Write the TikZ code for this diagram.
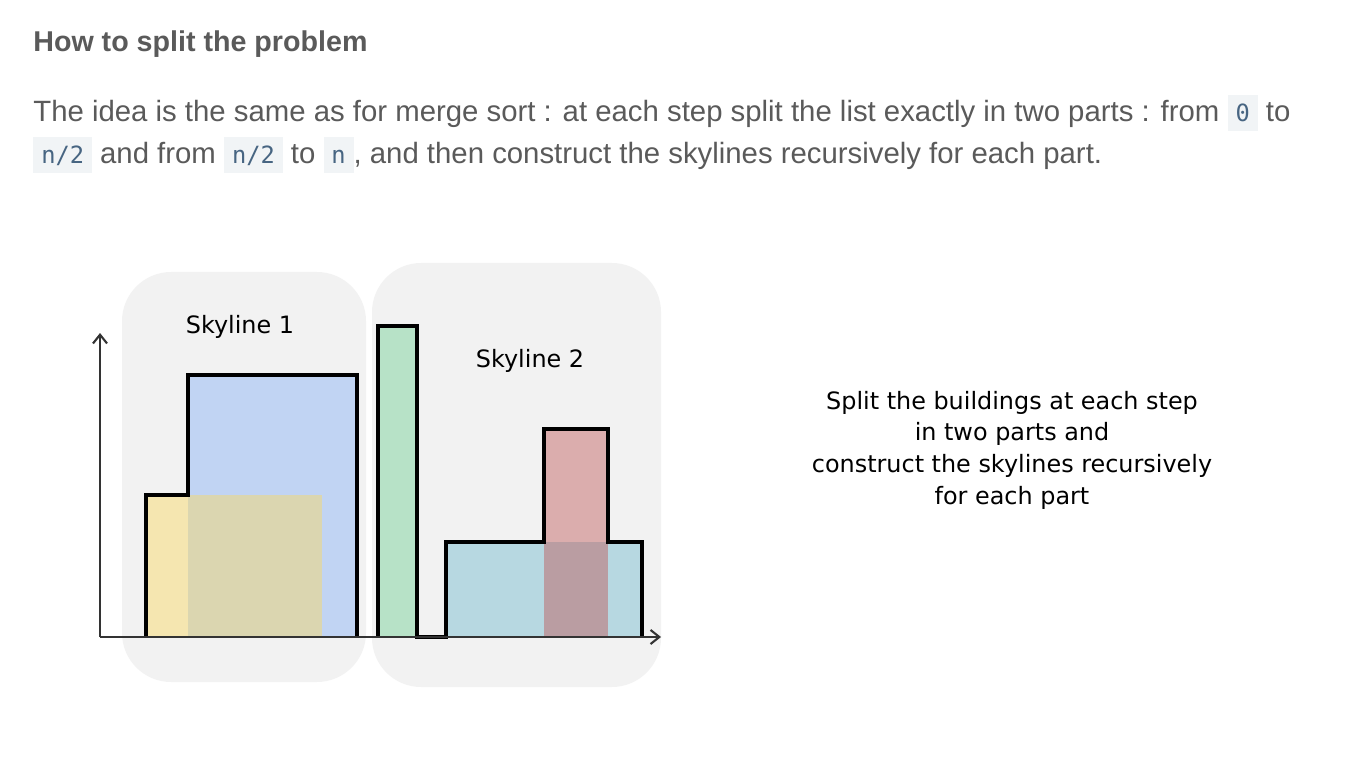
\documentclass[tikz,border=0pt]{standalone}
\usepackage{fontspec}
\setmainfont{Liberation Sans}
\setmonofont{DejaVu Sans Mono}
\newfontfamily\handfont{DejaVu Sans}
\usetikzlibrary{arrows.meta, positioning}
\definecolor{textgray}{HTML}{5A5A5A}
\definecolor{codebg}{HTML}{F1F4F6}
\definecolor{codefg}{HTML}{476582}
\definecolor{panelgray}{HTML}{F2F2F2}
\definecolor{axisgray}{HTML}{333333}
\definecolor{bldyellow}{HTML}{F5E6B0}
\definecolor{bldblue}{HTML}{C1D4F3}
\definecolor{bldmix}{HTML}{DBD6B0}
\definecolor{bldgreen}{HTML}{B7E2C7}
\definecolor{bldcyan}{HTML}{B7D8E1}
\definecolor{bldred}{HTML}{DBADAD}
\definecolor{bldmauve}{HTML}{BA9DA2}
\newcommand{\code}[1]{{\setlength{\fboxsep}{0pt}\colorbox{codebg}{\hspace{4.5pt}\rule[-5pt]{0pt}{20.5pt}{\ttfamily\fontsize{13.5}{16}\selectfont\color{codefg}#1}\hspace{4.5pt}}}}
\tikzset{
  heading/.style={anchor=base west, inner sep=0pt, text=textgray, font=\fontsize{16.3}{20}\selectfont\bfseries},
  para/.style={anchor=base west, inner sep=0pt, text=textgray, font=\fontsize{16.7}{20}\selectfont},
  panel/.style={fill=panelgray, rounded corners=28pt},
  skyline/.style={draw=black, line width=2.3pt, line join=miter},
  axis/.style={draw=axisgray, line width=1pt, -{Straight Barb[length=5pt, width=8pt, line width=1.2pt]}},
  hand/.style={align=center, inner sep=0pt, font=\handfont\fontsize{13.6}{18}\selectfont},
}

\begin{document}
\begin{tikzpicture}[x=0.02cm, y=-0.02cm]
  \useasboundingbox[fill=white] (0,0) rectangle (1358,780);

  % Text above the chart
  \node[heading] (title) at (33,52) {How to split the problem};
  \node[para] (lineone) at (33,122) {The idea is the same as for merge sort : at each step split the list exactly in two parts : from \code{0} to};
  \node[para] (linetwo) at (33,164) {\code{n/2} and from \code{n/2} to \code{n}, and then construct the skylines recursively for each part.};

  % Two halves
  \fill[panel] (122,272) rectangle (366,682);
  \fill[panel] (372,263) rectangle (661,687);
  \node[hand] (sky1) at (240,327) {Skyline 1};
  \node[hand] (sky2) at (530,361) {Skyline 2};

  % Buildings
  \fill[bldyellow] (146,495) rectangle (188,637);
  \fill[bldblue] (188,375) rectangle (357,637);
  \fill[bldmix] (188,495) rectangle (322,637);
  \fill[bldgreen] (378,326) rectangle (417,637);
  \fill[bldcyan] (446,542) rectangle (642,637);
  \fill[bldred] (544,429) rectangle (608,542);
  \fill[bldmauve] (544,542) rectangle (608,637);

  % Outlines of the skylines
  \draw[skyline] (146,637) |- (188,495) |- (357,375) -- (357,637);
  \draw[skyline] (378,637) |- (417,326) -- (417,637) -- (446,637) |- (544,542) |- (608,429) |- (642,542) -- (642,637);

  % Axes
  \coordinate (origin) at (100,637);
  \coordinate (ytop) at (100,333);
  \coordinate (xend) at (661,637);
  \draw[axis] (origin) -- (ytop);
  \draw[axis] (origin) -- (xend);

  % Note on the right
  \node[hand] (note) at (1012,450) {Split the buildings at each step\\in two parts and\\construct the skylines recursively\\for each part};
\end{tikzpicture}
\end{document}
